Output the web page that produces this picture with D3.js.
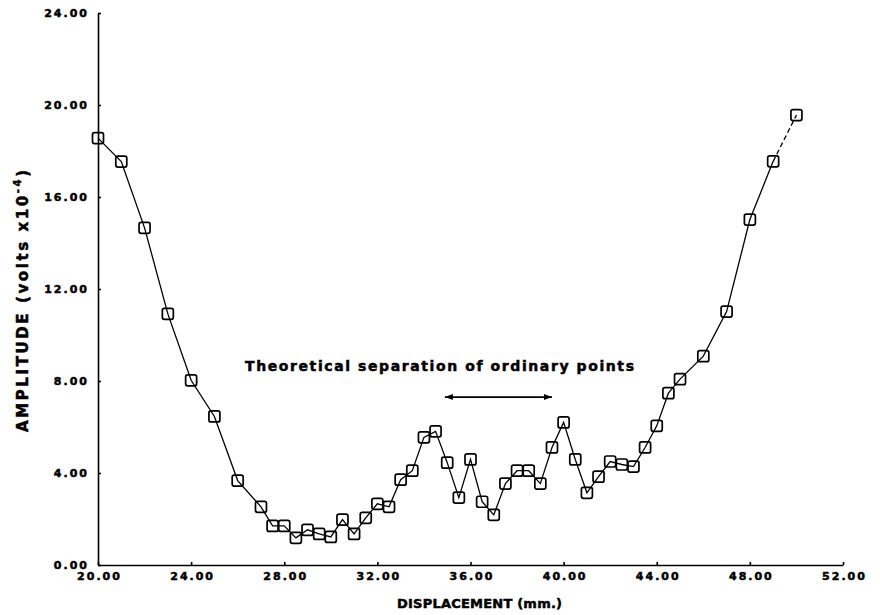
<!DOCTYPE html>
<meta charset="utf-8">
<head>
    <title>Amplitude vs displacement</title>
    <script src="https://d3js.org/d3.v7.min.js"></script>
</head>
<style>
    body {
        margin: 0;
        background-color: #ffffff;
    }
    text {
        font-family: "DejaVu Sans", sans-serif;
        font-weight: bold;
        fill: #000;
        stroke: #000;
        stroke-width: 0.5px;
    }
    .axis path,
    .axis line {
        fill: none;
        stroke: #000;
        stroke-width: 1.6px;
    }
    .axis text {
        font-size: 11px;
        letter-spacing: 2px;
    }
    .trace {
        fill: none;
        stroke: #000;
        stroke-width: 1.3px;
    }
    .marker {
        fill: none;
        stroke: #000;
        stroke-width: 1.7px;
    }
</style>
<body>
<svg width="880" height="615"></svg>
<script>
    // displacement (mm.)
    var displacement = [20, 21, 22, 23, 24, 25, 26, 27, 27.5, 28, 28.5, 29, 29.5, 30, 30.5, 31, 31.5,
        32, 32.5, 33, 33.5, 34, 34.5, 35, 35.5, 36, 36.5, 37, 37.5, 38, 38.5, 39, 39.5, 40, 40.5,
        41, 41.5, 42, 42.5, 43, 43.5, 44, 44.5, 45, 46, 47, 48, 49, 50];
    // amplitude (volts x10^-4)
    var amplitude = [18.56, 17.54, 14.66, 10.92, 8.03, 6.46, 3.67, 2.53, 1.70, 1.70, 1.18, 1.53, 1.35,
        1.22, 1.97, 1.35, 2.05, 2.66, 2.53, 3.71, 4.10, 5.55, 5.81, 4.45, 2.93, 4.59, 2.75, 2.18,
        3.54, 4.10, 4.10, 3.54, 5.11, 6.20, 4.59, 3.14, 3.84, 4.50, 4.37, 4.28, 5.11, 6.05, 7.47,
        8.08, 9.08, 11.02, 15.02, 17.55, 19.56];
    var xTicks = [20, 24, 28, 32, 36, 40, 44, 48, 52];
    var yTicks = [0, 4, 8, 12, 16, 20, 24];
    var arrowSpan = [34.9, 39.5], arrowLevel = 7.3;

    var svg = d3.select("svg");

    var x = d3.scaleLinear().domain([20, 52]).range([98, 843]);
    var y = d3.scaleLinear().domain([0, 24]).range([565, 13]);

    var data = displacement.map(function(d, i) { return {x: d, y: amplitude[i]}; });

    // axes
    var xAxis = svg.append("g")
        .attr("class", "x axis")
        .attr("transform", "translate(0," + y(0) + ")")
        .call(d3.axisBottom(x).tickValues(xTicks).tickFormat(d3.format(".2f"))
            .tickSizeInner(-3).tickSizeOuter(0).tickPadding(7));
    xAxis.selectAll("text").attr("dx", "1px");

    var yAxis = svg.append("g")
        .attr("class", "y axis")
        .attr("transform", "translate(" + x(20) + ",0)")
        .call(d3.axisLeft(y).tickValues(yTicks).tickFormat(d3.format(".2f"))
            .tickSizeInner(-3).tickSizeOuter(0).tickPadding(9));

    // curve
    var line = d3.line()
        .x(function(d) { return x(d.x); })
        .y(function(d) { return y(d.y); });

    svg.append("path")
        .datum(data.slice(0, data.length - 1))
        .attr("class", "trace")
        .attr("d", line);

    svg.append("path")
        .datum(data.slice(data.length - 2))
        .attr("class", "trace")
        .style("stroke-dasharray", "5,3")
        .attr("d", line);

    var s = 11;
    svg.selectAll(".marker")
        .data(data)
        .enter().append("rect")
        .attr("class", "marker")
        .attr("x", function(d) { return x(d.x) - s / 2; })
        .attr("y", function(d) { return y(d.y) - s / 2; })
        .attr("width", s)
        .attr("height", s)
        .attr("rx", 2);

    // annotation
    svg.append("text")
        .attr("x", 245)
        .attr("y", 371)
        .attr("textLength", 389)
        .attr("lengthAdjust", "spacing")
        .style("font-size", "14px")
        .text("Theoretical separation of ordinary points");

    var ay = y(arrowLevel), ax0 = x(arrowSpan[0]), ax1 = x(arrowSpan[1]);
    svg.append("line")
        .attr("x1", ax0).attr("x2", ax1)
        .attr("y1", ay).attr("y2", ay)
        .attr("stroke", "#000").attr("stroke-width", 1.8);
    svg.append("path")
        .attr("d", "M" + ax0 + "," + ay + "l8,-3l0,6z M" + ax1 + "," + ay + "l-8,-3l0,6z")
        .attr("fill", "#000");

    // axis titles
    svg.append("text")
        .attr("x", 397)
        .attr("y", 608)
        .attr("textLength", 165)
        .attr("lengthAdjust", "spacing")
        .style("font-size", "13px")
        .text("DISPLACEMENT (mm.)");

    var yt = svg.append("text")
        .attr("transform", "translate(28,432) rotate(-90)")
        .attr("textLength", 262)
        .attr("lengthAdjust", "spacing")
        .style("font-size", "15px");
    yt.append("tspan").text("AMPLITUDE (volts x10");
    yt.append("tspan").attr("dy", "-7").style("font-size", "10px").text("-4");
    yt.append("tspan").attr("dy", "7").text(")");
</script>
</body>
